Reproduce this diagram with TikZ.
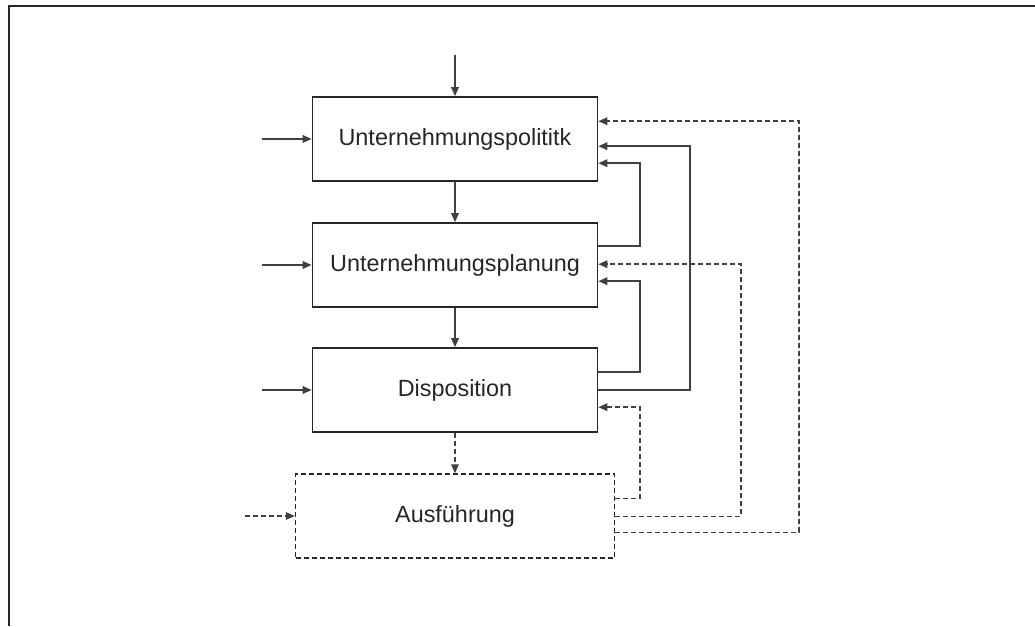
\documentclass[tikz,border=0pt]{standalone}
\usepackage{fontspec}
\setmainfont{Liberation Sans}
\usetikzlibrary{arrows.meta}
\begin{document}
\begin{tikzpicture}[x=1pt,y=-1pt,
  stage/.style={draw=black!85, line width=1.6pt, minimum width=285pt, minimum height=84pt,
    inner sep=0pt, font=\fontsize{23.4}{28}\selectfont, text=black!85},
  dstage/.style={stage, line width=1.4pt, dash pattern=on 5pt off 3pt, minimum width=319pt},
  flow/.style={draw=black!75, line width=1.7pt, -{Triangle[length=9pt,width=7.5pt]}},
  dflow/.style={flow, line width=1.5pt, dash pattern=on 5pt off 3pt},
  frame/.style={draw=black!85, line width=2pt}]
\useasboundingbox (0,0) rectangle (1035,626);
% open frame: top and left edges only
\draw[frame] (1035,6) -- (9,6) -- (9,626);

% stages
\node[stage]  (pol)  at (455,139) {Unternehmungspolititk};
\node[stage]  (plan) at (455,265) {Unternehmungsplanung};
\node[stage]  (disp) at (455,390) {Disposition};
\node[dstage] (ausf) at (455,516) {Ausführung};

% free ends of the external inputs
\coordinate (top)  at (455,55);
\coordinate (in1)  at (262,139);
\coordinate (in2)  at (262,265);
\coordinate (in3)  at (262,390);
\coordinate (in4)  at (245,516);

% downward chain
\draw[flow]  (top) -- (pol);
\draw[flow]  (pol) -- (plan);
\draw[flow]  (plan) -- (disp);
\draw[dflow] (disp) -- (ausf);

% external inputs
\draw[flow]  (in1) -- (pol);
\draw[flow]  (in2) -- (plan);
\draw[flow]  (in3) -- (disp);
\draw[dflow] (in4) -- (ausf);

% solid feedback loops
\draw[flow] ([yshift=-24pt]plan.north east) -- ++(42,0) |- ([yshift=-67pt]pol.north east);
\draw[flow] ([yshift=-25pt]disp.north east) -- ++(42,0) |- ([yshift=-59pt]plan.north east);
\draw[flow] ([yshift=-43pt]disp.north east) -- ++(92,0) |- ([yshift=-50pt]pol.north east);

% dashed feedback loops from the execution stage
\draw[dflow] ([yshift=-25pt]ausf.north east) -- ++(25,0) |- ([yshift=-60pt]disp.north east);
\draw[dflow] ([yshift=-43pt]ausf.north east) -- ++(126,0) |- ([yshift=-42pt]plan.north east);
\draw[dflow] ([yshift=-59pt]ausf.north east) -- ++(184,0) |- ([yshift=-25pt]pol.north east);
\end{tikzpicture}
\end{document}
